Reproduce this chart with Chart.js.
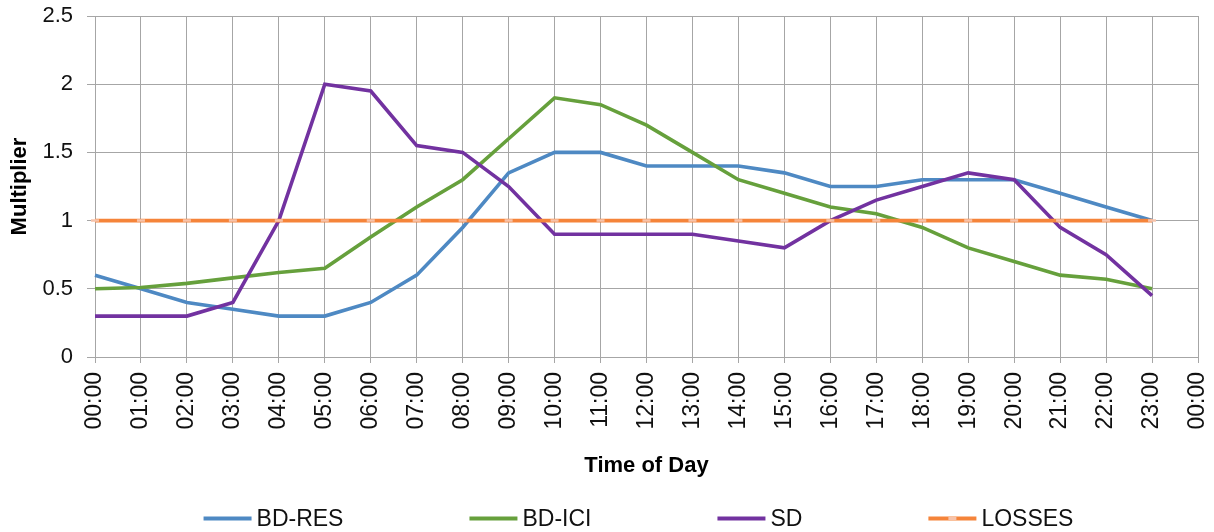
<!DOCTYPE html>
<html>
<head>
<meta charset="utf-8">
<title>Multiplier by Time of Day</title>
<script src="https://cdn.jsdelivr.net/npm/chart.js@4.4.1/dist/chart.umd.min.js"></script>
<style>
  html, body { margin: 0; padding: 0; background: #ffffff; }
  canvas { display: block; }
</style>
</head>
<body>
<canvas id="chart" width="1214" height="532"></canvas>
<script>
// Hourly categories (the axis closes with a second 00:00 that carries no data)
const hours = ['00:00','01:00','02:00','03:00','04:00','05:00','06:00','07:00',
               '08:00','09:00','10:00','11:00','12:00','13:00','14:00','15:00',
               '16:00','17:00','18:00','19:00','20:00','21:00','22:00','23:00','00:00'];

// Hourly multipliers per profile
const bdRes  = [0.6, 0.5, 0.4, 0.35, 0.3, 0.3, 0.4, 0.6, 0.95, 1.35, 1.5, 1.5,
                1.4, 1.4, 1.4, 1.35, 1.25, 1.25, 1.3, 1.3, 1.3, 1.2, 1.1, 1.0];
const bdIci  = [0.5, 0.51, 0.54, 0.58, 0.62, 0.65, 0.88, 1.1, 1.3, 1.6, 1.9, 1.85,
                1.7, 1.5, 1.3, 1.2, 1.1, 1.05, 0.95, 0.8, 0.7, 0.6, 0.57, 0.5];
const sd     = [0.3, 0.3, 0.3, 0.4, 1.0, 2.0, 1.95, 1.55, 1.5, 1.25, 0.9, 0.9,
                0.9, 0.9, 0.85, 0.8, 1.0, 1.15, 1.25, 1.35, 1.3, 0.95, 0.75, 0.45];
const losses = [1, 1, 1, 1, 1, 1, 1, 1, 1, 1, 1, 1,
                1, 1, 1, 1, 1, 1, 1, 1, 1, 1, 1, 1];

// Value axis ticks
const yTicks = [0, 0.5, 1, 1.5, 2, 2.5];

const FONT = '"Liberation Sans", Arial, sans-serif';
const GRID = '#a6a6a6';

function series(label, data, color, order) {
  return {
    label, data, order,
    borderColor: color,
    backgroundColor: color,
    borderWidth: 3.6,
    tension: 0,
    pointRadius: 0,
    pointHoverRadius: 0,
    fill: false
  };
}

const datasets = [
  series('BD-RES', bdRes, '#4e89c3', 4),
  series('BD-ICI', bdIci, '#66a03c', 3),
  series('SD', sd, '#7232a0', 2),
  Object.assign(series('LOSSES', losses, '#f5843a', 1), {
    pointStyle: 'line',
    pointRadius: 4,
    pointBorderWidth: 2.5,
    pointBorderColor: '#f6c3ab',
    pointBackgroundColor: '#f6c3ab'
  })
];

// Horizontal legend row under the x-axis title
const lineLegend = {
  id: 'lineLegend',
  afterDraw(chart) {
    const ctx = chart.ctx;
    const swatch = 48, textGap = 5, itemGap = 126;
    ctx.save();
    ctx.font = '23px ' + FONT;
    ctx.textBaseline = 'middle';
    ctx.textAlign = 'left';
    const items = chart.data.datasets.map(ds => ({
      ds,
      w: swatch + textGap + ctx.measureText(ds.label).width
    }));
    const total = items.reduce((s, it) => s + it.w, 0) + itemGap * (items.length - 1);
    const ca = chart.chartArea;
    let x = (ca.left + ca.right) / 2 - 8 - total / 2;
    const y = chart.height - 13.5;
    items.forEach(({ ds, w }) => {
      ctx.strokeStyle = ds.borderColor;
      ctx.lineWidth = 4;
      ctx.beginPath();
      ctx.moveTo(x, y);
      ctx.lineTo(x + swatch, y);
      ctx.stroke();
      if (ds.pointStyle === 'line') {
        ctx.strokeStyle = ds.pointBorderColor;
        ctx.lineWidth = 3;
        ctx.beginPath();
        ctx.moveTo(x + swatch / 2 - 4, y);
        ctx.lineTo(x + swatch / 2 + 4, y);
        ctx.stroke();
      }
      ctx.fillStyle = '#111111';
      ctx.fillText(ds.label, x + swatch + textGap, y + 1);
      x += w + itemGap;
    });
    ctx.restore();
  }
};

new Chart(document.getElementById('chart'), {
  type: 'line',
  data: { labels: hours, datasets },
  plugins: [lineLegend],
  options: {
    responsive: false,
    animation: false,
    events: [],
    layout: { padding: { left: 0, right: 16, top: 16, bottom: 45 } },
    plugins: {
      legend: { display: false },
      tooltip: { enabled: false }
    },
    scales: {
      x: {
        type: 'category',
        offset: false,
        grid: { color: GRID, lineWidth: 1, tickLength: 6, drawTicks: true },
        border: { color: GRID, width: 1 },
        ticks: {
          autoSkip: false,
          minRotation: 90,
          maxRotation: 90,
          padding: 9,
          color: '#111111',
          font: { family: FONT, size: 23 }
        },
        title: {
          display: true,
          text: 'Time of Day',
          color: '#000000',
          font: { family: FONT, size: 22, weight: 'bold' },
          padding: { top: 0, bottom: 8 }
        },
        afterFit(scale) {
          scale.height = 130;
          scale.paddingLeft = 0;
          scale.paddingRight = 0;
        }
      },
      y: {
        min: 0,
        max: 2.5,
        afterBuildTicks(scale) { scale.ticks = yTicks.map(v => ({ value: v })); },
        grid: { color: GRID, lineWidth: 1, tickLength: 8 },
        border: { color: GRID, width: 1 },
        ticks: {
          padding: 14,
          color: '#111111',
          font: { family: FONT, size: 22 },
          callback: v => String(v)
        },
        title: {
          display: true,
          text: 'Multiplier',
          color: '#000000',
          font: { family: FONT, size: 22, weight: 'bold' },
          padding: { top: 7, bottom: 0 }
        },
        afterFit(scale) {
          scale.width = 95;
          scale.paddingTop = 0;
          scale.paddingBottom = 0;
        }
      }
    }
  }
});
</script>
</body>
</html>
